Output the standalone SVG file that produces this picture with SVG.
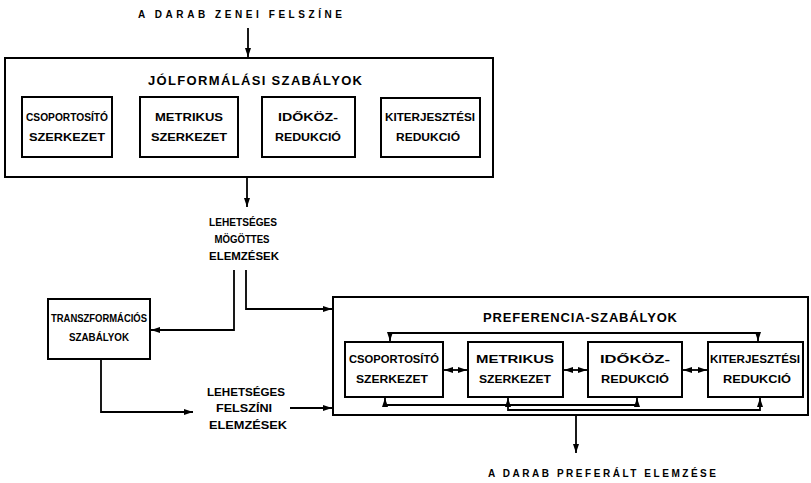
<svg xmlns="http://www.w3.org/2000/svg" width="811" height="483" viewBox="0 0 811 483">
  <defs>
    <marker id="arrow" markerUnits="userSpaceOnUse" markerWidth="10" markerHeight="8" refX="9" refY="4" orient="auto-start-reverse">
      <path d="M0,1 L9,4 L0,7 Z" fill="#000"/>
    </marker>
  </defs>
  <style>
    .box { fill: #fff; stroke: #000; stroke-width: 2; }
    .line { fill: none; stroke: #000; stroke-width: 1.8; }
    text { font-family: "Liberation Sans", Arial, sans-serif; font-weight: bold; fill: #000; text-anchor: middle; }
    .lbl { font-size: 10px; }
    .title { font-size: 13px; }
    .cap { font-size: 10px; }
  </style>
  <rect width="811" height="483" fill="#fff"/>

  <!-- input label -->
  <text class="cap" x="240" y="18" textLength="204" lengthAdjust="spacing">A DARAB ZENEI FELSZÍNE</text>

  <!-- well-formedness rules -->
  <g id="wf-rules">
    <rect class="box" x="5" y="58" width="488" height="119"/>
    <text class="title" x="255" y="85" textLength="214" lengthAdjust="spacing">JÓLFORMÁLÁSI SZABÁLYOK</text>
  </g>
  <g id="wf-grouping">
    <rect class="box" x="22" y="97" width="90" height="60"/>
    <text class="lbl" x="67" y="121" textLength="82" lengthAdjust="spacingAndGlyphs">CSOPORTOSÍTÓ</text>
    <text class="lbl" x="67" y="141" textLength="76" lengthAdjust="spacingAndGlyphs">SZERKEZET</text>
  </g>
  <g id="wf-metrical">
    <rect class="box" x="140" y="97" width="98" height="60"/>
    <text class="lbl" x="189" y="121" textLength="68" lengthAdjust="spacingAndGlyphs">METRIKUS</text>
    <text class="lbl" x="189" y="141" textLength="76" lengthAdjust="spacingAndGlyphs">SZERKEZET</text>
  </g>
  <g id="wf-timespan">
    <rect class="box" x="262" y="97" width="93" height="60"/>
    <text class="lbl" x="308" y="121" textLength="60" lengthAdjust="spacingAndGlyphs">IDŐKÖZ-</text>
    <text class="lbl" x="308" y="141" textLength="66" lengthAdjust="spacingAndGlyphs">REDUKCIÓ</text>
  </g>
  <g id="wf-prolongation">
    <rect class="box" x="381" y="98" width="99" height="59"/>
    <text class="lbl" x="430" y="121" textLength="90" lengthAdjust="spacingAndGlyphs">KITERJESZTÉSI</text>
    <text class="lbl" x="428" y="141" textLength="64" lengthAdjust="spacingAndGlyphs">REDUKCIÓ</text>
  </g>

  <!-- possible underlying analyses -->
  <g id="underlying">
    <text class="lbl" x="243" y="226" textLength="68" lengthAdjust="spacingAndGlyphs">LEHETSÉGES</text>
    <text class="lbl" x="242" y="243" textLength="55" lengthAdjust="spacingAndGlyphs">MÖGÖTTES</text>
    <text class="lbl" x="244" y="260" textLength="70" lengthAdjust="spacingAndGlyphs">ELEMZÉSEK</text>
  </g>

  <!-- transformational rules -->
  <g id="transform">
    <rect class="box" x="48" y="299" width="102" height="60"/>
    <text class="lbl" x="99" y="322" textLength="96" lengthAdjust="spacingAndGlyphs">TRANSZFORMÁCIÓS</text>
    <text class="lbl" x="99" y="341" textLength="60" lengthAdjust="spacingAndGlyphs">SZABÁLYOK</text>
  </g>

  <!-- possible surface analyses -->
  <g id="surface">
    <text class="lbl" x="246" y="396" textLength="78" lengthAdjust="spacingAndGlyphs">LEHETSÉGES</text>
    <text class="lbl" x="244" y="412" textLength="56" lengthAdjust="spacingAndGlyphs">FELSZÍNI</text>
    <text class="lbl" x="248" y="429" textLength="78" lengthAdjust="spacingAndGlyphs">ELEMZÉSEK</text>
  </g>

  <!-- preference rules -->
  <g id="pref-rules">
    <rect class="box" x="333" y="297" width="475" height="118"/>
    <text class="title" x="580" y="322" textLength="194" lengthAdjust="spacing">PREFERENCIA-SZABÁLYOK</text>
  </g>
  <g id="pr-grouping">
    <rect class="box" x="345" y="342" width="98" height="55"/>
    <text class="lbl" x="394" y="363" textLength="90" lengthAdjust="spacingAndGlyphs">CSOPORTOSÍTÓ</text>
    <text class="lbl" x="392" y="383" textLength="72" lengthAdjust="spacingAndGlyphs">SZERKEZET</text>
  </g>
  <g id="pr-metrical">
    <rect class="box" x="468" y="342" width="95" height="55"/>
    <text class="lbl" x="515" y="363" textLength="78" lengthAdjust="spacingAndGlyphs">METRIKUS</text>
    <text class="lbl" x="515" y="383" textLength="72" lengthAdjust="spacingAndGlyphs">SZERKEZET</text>
  </g>
  <g id="pr-timespan">
    <rect class="box" x="588" y="342" width="94" height="55"/>
    <text class="lbl" x="635" y="363" textLength="70" lengthAdjust="spacingAndGlyphs">IDŐKÖZ-</text>
    <text class="lbl" x="635" y="383" textLength="68" lengthAdjust="spacingAndGlyphs">REDUKCIÓ</text>
  </g>
  <g id="pr-prolongation">
    <rect class="box" x="708" y="342" width="95" height="55"/>
    <text class="lbl" x="755" y="363" textLength="90" lengthAdjust="spacingAndGlyphs">KITERJESZTÉSI</text>
    <text class="lbl" x="757" y="383" textLength="68" lengthAdjust="spacingAndGlyphs">REDUKCIÓ</text>
  </g>

  <!-- output label -->
  <text class="cap" x="602" y="477" textLength="228" lengthAdjust="spacing">A DARAB PREFERÁLT ELEMZÉSE</text>

  <g id="connectors">
    <!-- surface input into well-formedness rules -->
    <path class="line" d="M248,28 V57" marker-end="url(#arrow)"/>
    <!-- well-formedness rules to underlying analyses -->
    <path class="line" d="M247,177 V207" marker-end="url(#arrow)"/>
    <!-- underlying analyses to transformational rules -->
    <path class="line" d="M234,270 V330 H151" marker-end="url(#arrow)"/>
    <!-- underlying analyses to preference rules -->
    <path class="line" d="M246,270 V309 H332" marker-end="url(#arrow)"/>
    <!-- transformational rules to surface analyses -->
    <path class="line" d="M101,359 V412 H193" marker-end="url(#arrow)"/>
    <!-- surface analyses to preference rules -->
    <path class="line" d="M290,408 H332" marker-end="url(#arrow)"/>
    <!-- preference rules to preferred analysis -->
    <path class="line" d="M576,415 V453" marker-end="url(#arrow)"/>

    <!-- interactions between preference components -->
    <path class="line" d="M444,370 H467" marker-start="url(#arrow)" marker-end="url(#arrow)"/>
    <path class="line" d="M564,370 H587" marker-start="url(#arrow)" marker-end="url(#arrow)"/>
    <path class="line" d="M683,370 H707" marker-start="url(#arrow)" marker-end="url(#arrow)"/>
    <path class="line" d="M390,341 V333 H758 V341" marker-start="url(#arrow)" marker-end="url(#arrow)"/>
    <path class="line" d="M385,398 V405 H637 V398" marker-start="url(#arrow)" marker-end="url(#arrow)"/>
    <path class="line" d="M508,398 V410 H760 V398" marker-start="url(#arrow)" marker-end="url(#arrow)"/>
  </g>
</svg>
